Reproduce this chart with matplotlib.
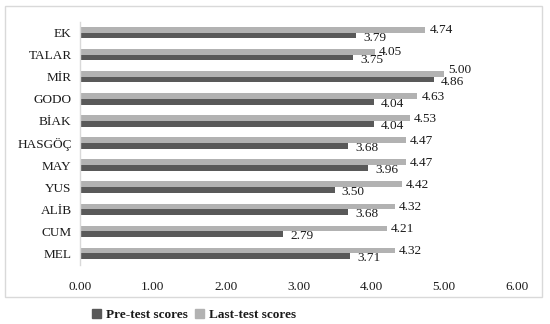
import matplotlib
matplotlib.use("Agg")
import matplotlib.pyplot as plt
from matplotlib.patches import Rectangle, Patch
import numpy as np

categories = ["MEL", "CUM", "ALİB", "YUS", "MAY", "HASGÖÇ", "BİAK", "GODO", "MİR", "TALAR", "EK"]
pre_scores = [3.71, 2.79, 3.68, 3.50, 3.96, 3.68, 4.04, 4.04, 4.86, 3.75, 3.79]
last_scores = [4.32, 4.21, 4.32, 4.42, 4.47, 4.47, 4.53, 4.63, 5.00, 4.05, 4.74]
xticks = [0, 1, 2, 3, 4, 5, 6]

plt.rcParams['font.family'] = ['Liberation Serif', 'DejaVu Serif']

W, H = 550, 324
fig = plt.figure(figsize=(W / 100, H / 100), dpi=100)

# outer chart frame
fig.patches.append(Rectangle((5 / W, 1 - 297 / H), 537 / W, 291 / H, transform=fig.transFigure,
                             fill=False, edgecolor="#d9d9d9", linewidth=1.0))

ax = fig.add_axes([80 / W, 1 - 264.5 / H, (517 - 80) / W, 243 / H])
y = np.arange(len(categories))
h = 0.26
dark = "#595959"
light = "#b2b2b2"
txt = "#1a1a1a"
ax.barh(y + h / 2, last_scores, height=h, color=light, label="Last-test scores")
ax.barh(y - h / 2, pre_scores, height=h, color=dark, label="Pre-test scores")

for yi, v, p in zip(y, last_scores, pre_scores):
    dy = 3.5 if abs(v - p) < 0.2 else 0
    ax.annotate(f"{v:.2f}", (v, yi + h / 2), xytext=(3, dy - 0.5), textcoords="offset points",
                va="center", ha="left", fontsize=9.5, color=txt)
for yi, v in zip(y, pre_scores):
    ax.annotate(f"{v:.2f}", (v, yi - h / 2), xytext=(5, -1.5), textcoords="offset points",
                va="center", ha="left", fontsize=9.5, color=txt)

ax.set_xlim(0, 6)
ax.set_ylim(-0.5, len(categories) - 0.5)
ax.set_xticks(xticks)
ax.set_xticklabels([f"{t:.2f}" for t in xticks], fontsize=9.5, color=txt)
ax.set_yticks(y)
ax.set_yticklabels(categories, fontsize=9.5, color=txt)
ax.tick_params(axis="both", length=0)
ax.tick_params(axis="x", pad=12)
ax.tick_params(axis="y", pad=6)
for s in ["top", "right", "bottom"]:
    ax.spines[s].set_visible(False)
ax.spines["left"].set_color("#d9d9d9")
ax.spines["left"].set_linewidth(1.0)

handles = [Patch(color=dark, label="Pre-test scores"), Patch(color=light, label="Last-test scores")]
fig.legend(handles=handles, loc="center", bbox_to_anchor=(194 / W, 1 - 315 / H), ncol=2,
           frameon=False, prop={"weight": "bold", "size": 9.5}, handlelength=0.7, handleheight=0.7,
           handletextpad=0.4, columnspacing=0.5, labelcolor=txt)

fig.savefig("out.png", dpi=100)
